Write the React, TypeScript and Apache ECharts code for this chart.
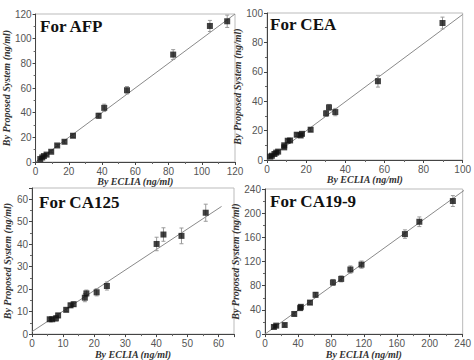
import React, { useEffect, useRef } from "react";
import * as echarts from "echarts";

// Panel titles and axis names
const panelTitles = ["For AFP", "For CEA", "For CA125", "For CA19-9"];
const xAxisName = "By ECLIA (ng/ml)";
const yAxisName = "By Proposed System (ng/ml)";

// AFP
const afpX = [2.8, 4.0, 5.0, 6.6, 9.4, 13.0, 17.4, 22.5, 37.9, 41.3, 55.0, 82.8, 104.9, 115.3];
const afpY = [2.4, 3.7, 4.8, 6.0, 8.3, 13.4, 16.4, 21.3, 37.5, 43.9, 58.2, 87.1, 110.3, 114.1];
const afpErr = [0.6, 0.6, 0.7, 0.7, 0.8, 1.0, 1.2, 1.5, 2.0, 3.0, 3.0, 4.0, 4.5, 5.0];
const afpFit = [[0, 0], [120, 120]];

// CEA
const ceaX = [1.7, 2.5, 3.8, 4.7, 5.7, 8.8, 8.8, 10.6, 11.8, 15.2, 17.2, 17.9, 22.3, 30.2, 31.7, 34.9, 56.7, 89.7];
const ceaY = [2.3, 2.9, 4.1, 5.0, 5.7, 8.6, 10.0, 13.1, 13.3, 17.2, 16.7, 17.8, 20.6, 31.7, 35.8, 32.6, 53.6, 93.2];
const ceaErr = [0.5, 0.5, 0.6, 0.6, 0.7, 0.8, 0.8, 1.0, 1.0, 1.2, 1.2, 1.2, 1.3, 2.0, 2.0, 2.5, 4.0, 4.0];
const ceaFit = [[0, 0], [100, 99]];

// CA125
const ca125X = [5.7, 6.5, 7.7, 8.4, 11.0, 12.4, 13.4, 17.0, 17.5, 20.8, 24.1, 40.1, 42.3, 48.1, 55.9];
const ca125Y = [6.6, 6.6, 7.0, 8.3, 10.8, 12.8, 13.3, 16.2, 18.1, 18.6, 21.4, 40.1, 44.3, 43.7, 54.0];
const ca125Err = [0.6, 0.6, 1.2, 1.0, 0.8, 1.0, 1.0, 1.8, 1.5, 1.6, 1.8, 3.0, 3.0, 3.5, 3.8];
const ca125Fit = [[0, 1.1], [61, 56.8]];

// CA19-9
const ca199X = [10.8, 13.6, 23.9, 35.5, 42.7, 43.5, 54.6, 61.4, 82.5, 92.5, 103.7, 117.2, 169.9, 187.4, 228.1];
const ca199Y = [11.8, 14.0, 15.0, 33.3, 43.0, 45.1, 52.1, 65.0, 85.4, 91.3, 106.8, 114.9, 165.4, 185.8, 220.1];
const ca199Err = [2, 2, 2, 3, 3, 3, 3, 4, 5, 5, 6, 6, 7, 8, 9];
const ca199Fit = [[0, 0], [242, 238]];

const axisMax = [120, 100, 65, 240];
const axisStep = [20, 20, 10, 40];

const grids = [
  { left: 34, top: 14, width: 201, height: 148 },
  { left: 267, top: 13, width: 198, height: 147 },
  { left: 32, top: 188, width: 202, height: 151 },
  { left: 265, top: 189, width: 200, height: 149 },
];
const titlePos = [
  { left: 40, top: 18 },
  { left: 270, top: 16 },
  { left: 39, top: 194 },
  { left: 270, top: 193 },
];
const xNameGap = [13, 13, 10, 11];
const yNameGap = [20, 17, 12, 16];

const panels = [
  { x: afpX, y: afpY, e: afpErr, fit: afpFit },
  { x: ceaX, y: ceaY, e: ceaErr, fit: ceaFit },
  { x: ca125X, y: ca125Y, e: ca125Err, fit: ca125Fit },
  { x: ca199X, y: ca199Y, e: ca199Err, fit: ca199Fit },
];

const labelStyle = {
  fontSize: 10,
  color: "#555",
  fontFamily: "Liberation Sans, Arial, sans-serif",
};
const nameStyle = {
  fontSize: 10,
  fontStyle: "italic",
  fontWeight: "bold",
  fontFamily: "Liberation Serif, Times New Roman, serif",
  color: "#333",
};

function makeAxis(i: number, isX: boolean) {
  const step = axisStep[i];
  return {
    type: "value",
    gridIndex: i,
    min: 0,
    max: axisMax[i],
    interval: step,
    name: isX ? xAxisName : yAxisName,
    nameLocation: "middle",
    nameGap: isX ? xNameGap[i] : yNameGap[i],
    nameTextStyle: nameStyle,
    axisLine: { show: true, onZero: false, lineStyle: { color: "#444", width: 1 } },
    axisTick: { show: true, inside: false, length: 3, lineStyle: { color: "#444" } },
    minorTick: { show: true, splitNumber: 2, length: 2, lineStyle: { color: "#666" } },
    splitLine: { show: false },
    axisLabel: {
      ...labelStyle,
      margin: 4,
      formatter: (v: number) => (Math.abs(v % step) < 1e-9 ? String(v) : ""),
    },
  };
}

export default function App() {
  const ref = useRef<HTMLDivElement>(null);
  useEffect(() => {
    if (!ref.current) return;
    const chart = echarts.init(ref.current, undefined, { renderer: "svg" });
    const series: any[] = [];
    panels.forEach((p, i) => {
      series.push({
        type: "line",
        xAxisIndex: i,
        yAxisIndex: i,
        data: p.fit,
        showSymbol: false,
        symbol: "none",
        lineStyle: { color: "#8a8a8a", width: 1 },
        silent: true,
        z: 1,
      });
      series.push({
        type: "custom",
        xAxisIndex: i,
        yAxisIndex: i,
        data: p.x.map((v, k) => [v, p.y[k], p.e[k]]),
        encode: { x: 0, y: 1 },
        renderItem: (params: any, api: any) => {
          const x = api.value(0);
          const y = api.value(1);
          const e = api.value(2);
          const t = api.coord([x, y + e]);
          const b = api.coord([x, y - e]);
          const w = 2;
          const st = { stroke: "#9a9a9a", lineWidth: 1 };
          return {
            type: "group",
            children: [
              { type: "line", shape: { x1: t[0], y1: t[1], x2: b[0], y2: b[1] }, style: st },
              { type: "line", shape: { x1: t[0] - w, y1: t[1], x2: t[0] + w, y2: t[1] }, style: st },
              { type: "line", shape: { x1: b[0] - w, y1: b[1], x2: b[0] + w, y2: b[1] }, style: st },
            ],
          };
        },
        z: 2,
      });
      series.push({
        type: "scatter",
        xAxisIndex: i,
        yAxisIndex: i,
        data: p.x.map((v, k) => [v, p.y[k]]),
        symbol: "rect",
        symbolSize: 6,
        itemStyle: { color: "#111" },
        z: 3,
      });
    });

    chart.setOption({
      animation: false,
      backgroundColor: "#ffffff",
      title: panelTitles.map((t, i) => ({
        text: t,
        left: titlePos[i].left,
        top: titlePos[i].top,
        padding: 0,
        textStyle: {
          fontSize: 17,
          fontWeight: "bold",
          fontFamily: "Liberation Serif, Times New Roman, serif",
          color: "#111",
        },
      })),
      grid: grids.map((g) => ({
        ...g,
        show: true,
        borderColor: "#bbbbbb",
        borderWidth: 1,
        backgroundColor: "transparent",
      })),
      xAxis: panels.map((_, i) => makeAxis(i, true)),
      yAxis: panels.map((_, i) => makeAxis(i, false)),
      series,
    });
    return () => chart.dispose();
  }, []);
  return (
    <div
      ref={ref}
      style={{ position: "fixed", left: 0, top: 0, width: 474, height: 360 }}
    />
  );
}
